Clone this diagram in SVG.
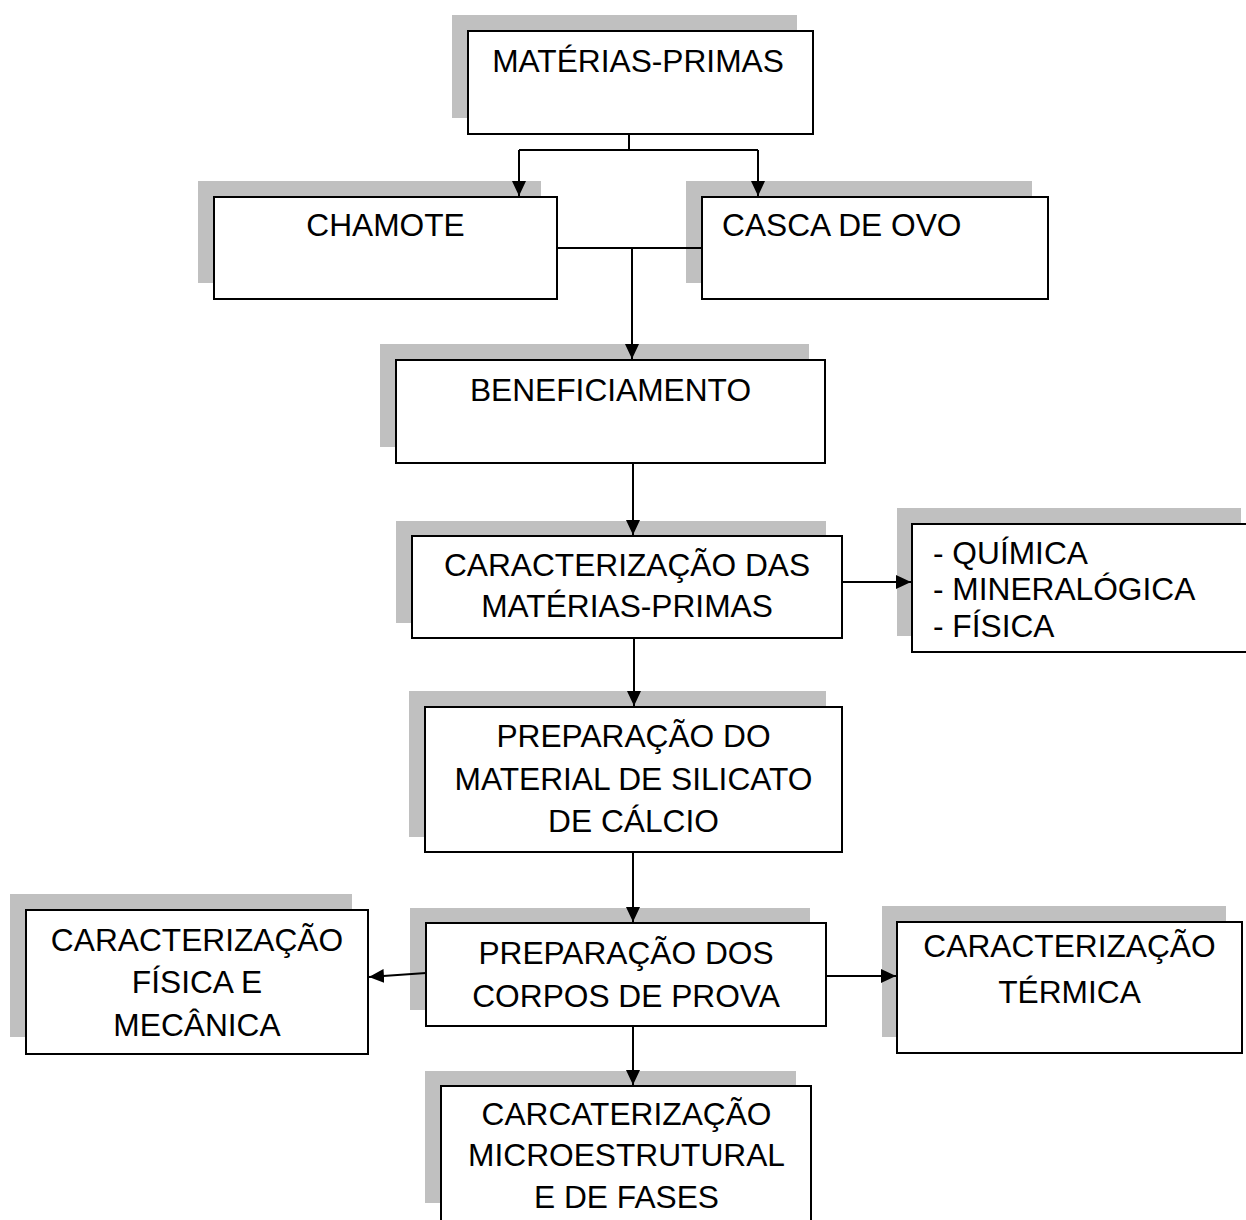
<svg xmlns="http://www.w3.org/2000/svg" width="1246" height="1220" viewBox="0 0 1246 1220">
<style>
.sh{fill:#c0c0c0;stroke:none}
.bx{fill:#ffffff;stroke:#000000;stroke-width:2}
.t{font-family:"Liberation Sans",Arial,sans-serif;font-size:31.7px;fill:#000000}
.c{text-anchor:middle}
.ln{fill:none;stroke:#000000;stroke-width:2}
</style>
<defs>
<marker id="ah" markerUnits="userSpaceOnUse" markerWidth="15" markerHeight="14" viewBox="0 0 15 14" refX="15" refY="7" orient="auto">
<path d="M0,0 L15,7 L0,14 z" fill="#000000"/>
</marker>
</defs>
<rect width="1246" height="1220" fill="#ffffff"/>

<g id="n-materias">
<rect class="sh" x="452" y="15" width="345" height="103"/>
<rect class="bx" x="468" y="31" width="345" height="103"/>
<text class="t c" x="638" y="72">MATÉRIAS-PRIMAS</text>
</g>

<g id="n-chamote">
<rect class="sh" x="198" y="181" width="343" height="102"/>
<rect class="bx" x="214" y="197" width="343" height="102"/>
<text class="t c" x="385.5" y="236">CHAMOTE</text>
</g>

<g id="n-casca">
<rect class="sh" x="686" y="181" width="346" height="102"/>
<rect class="bx" x="702" y="197" width="346" height="102"/>
<text class="t" x="722" y="236">CASCA DE OVO</text>
</g>

<g id="n-benef">
<rect class="sh" x="380" y="344" width="429" height="103"/>
<rect class="bx" x="396" y="360" width="429" height="103"/>
<text class="t c" x="610.5" y="401">BENEFICIAMENTO</text>
</g>

<g id="n-caract">
<rect class="sh" x="396" y="521" width="430" height="102"/>
<rect class="bx" x="412" y="536" width="430" height="102"/>
<text class="t c" x="627" y="576">CARACTERIZAÇÃO DAS</text>
<text class="t c" x="627" y="617">MATÉRIAS-PRIMAS</text>
</g>

<g id="n-quimica">
<rect class="sh" x="897" y="508" width="344" height="128"/>
<rect class="bx" x="912" y="524" width="344" height="128"/>
<text class="t" x="933" y="564">- QUÍMICA</text>
<text class="t" x="933" y="600">- MINERALÓGICA</text>
<text class="t" x="933" y="637">- FÍSICA</text>
</g>

<g id="n-prepmat">
<rect class="sh" x="409" y="691" width="417" height="146"/>
<rect class="bx" x="425" y="707" width="417" height="145"/>
<text class="t c" x="633.5" y="747">PREPARAÇÃO DO</text>
<text class="t c" x="633.5" y="790">MATERIAL DE SILICATO</text>
<text class="t c" x="633.5" y="832">DE CÁLCIO</text>
</g>

<g id="n-prepcorpos">
<rect class="sh" x="410" y="908" width="400" height="102"/>
<rect class="bx" x="426" y="923" width="400" height="103"/>
<text class="t c" x="626" y="964">PREPARAÇÃO DOS</text>
<text class="t c" x="626" y="1007">CORPOS DE PROVA</text>
</g>

<g id="n-fisica">
<rect class="sh" x="10" y="894" width="342" height="143"/>
<rect class="bx" x="26" y="910" width="342" height="144"/>
<text class="t c" x="197" y="951">CARACTERIZAÇÃO</text>
<text class="t c" x="197" y="993">FÍSICA E</text>
<text class="t c" x="197" y="1036">MECÂNICA</text>
</g>

<g id="n-termica">
<rect class="sh" x="882" y="906" width="344" height="131"/>
<rect class="bx" x="897" y="922" width="345" height="131"/>
<text class="t c" x="1069.5" y="957">CARACTERIZAÇÃO</text>
<text class="t c" x="1069.5" y="1003">TÉRMICA</text>
</g>

<g id="n-micro">
<rect class="sh" x="425" y="1071" width="371" height="132"/>
<rect class="bx" x="441" y="1086" width="370" height="136"/>
<text class="t c" x="626.5" y="1125">CARCATERIZAÇÃO</text>
<text class="t c" x="626.5" y="1166">MICROESTRUTURAL</text>
<text class="t c" x="626.5" y="1208">E DE FASES</text>
</g>

<g id="connectors">
<path class="ln" d="M629,134 V150 M519,150 H758"/>
<path class="ln" d="M519,150 V196" marker-end="url(#ah)"/>
<path class="ln" d="M758,150 V196" marker-end="url(#ah)"/>
<path class="ln" d="M557,248 H702"/>
<path class="ln" d="M632,248 V359" marker-end="url(#ah)"/>
<path class="ln" d="M633,463 V535" marker-end="url(#ah)"/>
<path class="ln" d="M842,582 H911" marker-end="url(#ah)"/>
<path class="ln" d="M634,638 V706" marker-end="url(#ah)"/>
<path class="ln" d="M633,852 V922" marker-end="url(#ah)"/>
<path class="ln" d="M426,973 L369,977" marker-end="url(#ah)"/>
<path class="ln" d="M826,976 H896" marker-end="url(#ah)"/>
<path class="ln" d="M633,1026 V1085" marker-end="url(#ah)"/>
</g>
</svg>
